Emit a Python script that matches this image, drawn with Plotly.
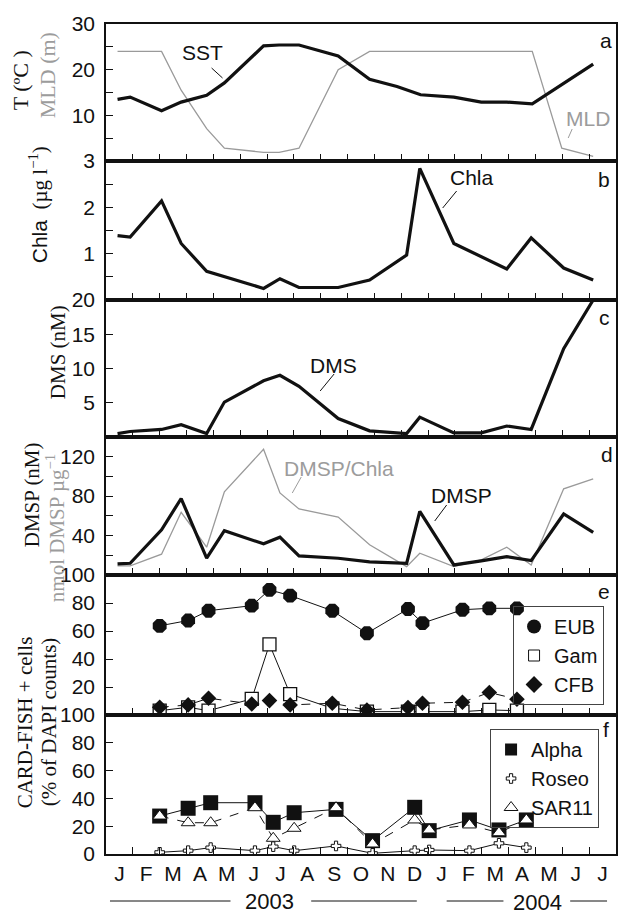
import plotly.graph_objects as go

# ---------------- data (x = months since 1 Jan 2003) ----------------
month_labels = ["J", "F", "M", "A", "M", "J", "J", "A", "S", "O", "N", "D",
                "J", "F", "M", "A", "M", "J", "J"]

x_sst = [0.43, 0.90, 2.07, 2.80, 3.75, 4.41, 5.87, 6.45, 7.19, 8.65, 9.82,
         10.84, 11.72, 12.96, 13.98, 14.93, 15.88, 18.15]
sst = [13.5, 14.0, 11.0, 12.9, 14.4, 17.1, 25.2, 25.4, 25.4, 23.0, 17.9,
       16.3, 14.5, 14.0, 12.9, 12.9, 12.5, 21.2]

x_mld = [0.43, 2.07, 2.80, 3.75, 4.41, 5.87, 6.45, 7.19, 8.65, 9.82, 15.88,
         16.98, 18.15]
mld = [24, 24, 15.5, 7.1, 2.8, 1.9, 1.9, 2.8, 20, 24, 24, 2.8, 1.0]

x_chla = [0.43, 0.90, 2.07, 2.80, 3.75, 5.87, 6.48, 7.19, 8.65, 9.82, 11.20,
          11.69, 12.96, 14.93, 15.84, 17.05, 18.15]
chla = [1.39, 1.36, 2.14, 1.22, 0.62, 0.25, 0.46, 0.27, 0.27, 0.43, 0.97,
        2.84, 1.22, 0.67, 1.34, 0.69, 0.43]

x_sulf = [0.43, 0.90, 2.07, 2.80, 3.75, 4.41, 5.87, 6.48, 7.19, 8.65, 9.82,
          11.20, 11.69, 12.96, 13.98, 14.93, 15.84, 17.05, 18.15]
dms = [0.5, 0.8, 1.1, 1.8, 0.5, 5.1, 8.2, 9.0, 7.4, 2.7, 0.9, 0.5, 2.9,
       0.6, 0.6, 1.6, 1.1, 12.9, 20.0]
dmsp = [11.2, 11.9, 45.9, 77.6, 17.0, 44.9, 31.6, 38.4, 19.4, 17.0, 13.3,
        11.9, 64.6, 10.2, 14.3, 18.7, 14.6, 61.9, 43.2]
dmsp_chla = [9.2, 9.2, 21.1, 63.6, 28.2, 84.4, 127.6, 83.3, 67.0, 58.8, 30.6,
             8.5, 22.1, 8.5, 15.3, 28.2, 10.2, 87.4, 97.6]

x_e = [2.00, 3.06, 3.82, 5.43, 6.09, 6.86, 8.43, 9.72, 11.25, 11.79, 13.28,
       14.28, 15.31]
eub = [63.7, 67.5, 74.5, 78.1, 89.4, 85.3, 74.5, 58.4, 75.7, 65.6, 75.2, 76.2, 76.2]
gam = [3.1, 5.5, 3.1, 11.5, 50.5, 14.9, 4.8, 2.4, 2.4, 2.4, 2.4, 3.6, 3.1]
cfb = [5.5, 7.2, 12.0, 7.9, 10.3, 7.2, 8.4, 3.6, 5.3, 8.4, 9.1, 16.1, 11.3]

x_f = [2.00, 3.06, 3.90, 5.55, 6.23, 7.01, 8.57, 9.93, 11.50, 12.04, 13.54,
       14.64, 15.66]
alpha = [27.3, 32.9, 36.9, 36.9, 22.8, 29.7, 32.1, 9.6, 33.6, 16.8, 24.5, 17.3, 24.5]
roseo = [1.2, 2.4, 4.6, 2.4, 5.3, 2.4, 5.8, 0.5, 2.4, 2.9, 2.4, 7.7, 4.6]
sar11 = [27.3, 22.5, 22.5, 33.3, 11.3, 18.5, 33.3, 7.2, 24.5, 17.3, 20.9, 15.3, 24.5]

# ---------------- geometry helpers ----------------
W, H = 619, 915
L, R, T, B = 106, 1, 24, 61
PW = W - L - R
PH = H - T - B


def px(xp):
    return (xp - L) / PW


def py(yp):
    return (H - B - yp) / PH


panels = [(24, 161), (161, 300), (300, 437), (437, 575), (575, 715), (715, 854)]
yranges = [[0, 30], [0, 3], [0, 20], [0, 140], [0, 100], [0, 100]]
ytickvals = [
    [0, 5, 10, 15, 20, 25, 30],
    [0, 0.5, 1, 1.5, 2, 2.5, 3],
    [0, 5, 10, 15, 20],
    [0, 20, 40, 60, 80, 100, 120, 140],
    [0, 20, 40, 60, 80, 100],
    [0, 20, 40, 60, 80, 100],
]
yticktext = [
    ["", "", "10", "", "20", "", "30"],
    ["", "", "1", "", "2", "", "3"],
    ["", "5", "10", "15", "20"],
    ["", "", "40", "", "80", "", "120", ""],
    ["", "20", "40", "60", "80", "100"],
    ["0", "20", "40", "60", "80", "100"],
]

SANS = "Liberation Sans"
SERIF = "Liberation Serif"
GRAY = "#9a9a9a"
GRAYT = "#9c9c9c"

fig = go.Figure()


def ax(i):
    return ("x" if i == 1 else f"x{i}"), ("y" if i == 1 else f"y{i}")


# panel a
xa, ya = ax(1)
fig.add_trace(go.Scatter(x=x_mld, y=mld, mode="lines", line=dict(color=GRAY, width=1.3),
                         xaxis=xa, yaxis=ya, showlegend=False))
fig.add_trace(go.Scatter(x=x_sst, y=sst, mode="lines", line=dict(color="#111", width=3.2),
                         xaxis=xa, yaxis=ya, showlegend=False))
# panel b
xa, ya = ax(2)
fig.add_trace(go.Scatter(x=x_chla, y=chla, mode="lines", line=dict(color="#111", width=3.2),
                         xaxis=xa, yaxis=ya, showlegend=False))
# panel c
xa, ya = ax(3)
fig.add_trace(go.Scatter(x=x_sulf, y=dms, mode="lines", line=dict(color="#111", width=3.2),
                         xaxis=xa, yaxis=ya, showlegend=False))
# panel d
xa, ya = ax(4)
fig.add_trace(go.Scatter(x=x_sulf, y=dmsp_chla, mode="lines", line=dict(color=GRAY, width=1.3),
                         xaxis=xa, yaxis=ya, showlegend=False))
fig.add_trace(go.Scatter(x=x_sulf, y=dmsp, mode="lines", line=dict(color="#111", width=3.2),
                         xaxis=xa, yaxis=ya, showlegend=False))
# panel e
xa, ya = ax(5)
fig.add_trace(go.Scatter(x=x_e, y=eub, mode="lines+markers", line=dict(color="#111", width=1),
                         marker=dict(symbol="octagon", size=15, color="#111"),
                         xaxis=xa, yaxis=ya, showlegend=False))
fig.add_trace(go.Scatter(x=x_e, y=gam, mode="lines+markers", line=dict(color="#111", width=1),
                         marker=dict(symbol="square", size=13, color="white",
                                     line=dict(color="#111", width=1.3)),
                         xaxis=xa, yaxis=ya, showlegend=False))
fig.add_trace(go.Scatter(x=x_e, y=cfb, mode="lines+markers",
                         line=dict(color="#111", width=1, dash="dash"),
                         marker=dict(symbol="diamond", size=12, color="#111"),
                         xaxis=xa, yaxis=ya, showlegend=False))
# panel f
xa, ya = ax(6)
fig.add_trace(go.Scatter(x=x_f, y=alpha, mode="lines+markers", line=dict(color="#111", width=1),
                         marker=dict(symbol="square", size=15, color="#111"),
                         xaxis=xa, yaxis=ya, showlegend=False))
fig.add_trace(go.Scatter(x=x_f, y=roseo, mode="lines+markers", line=dict(color="#111", width=1),
                         marker=dict(symbol="cross", size=8, color="white",
                                     line=dict(color="#111", width=1)),
                         xaxis=xa, yaxis=ya, showlegend=False))
fig.add_trace(go.Scatter(x=x_f, y=sar11, mode="lines+markers",
                         line=dict(color="#111", width=1, dash="dash"),
                         marker=dict(symbol="triangle-up", size=12, color="white",
                                     line=dict(color="#111", width=1)),
                         xaxis=xa, yaxis=ya, showlegend=False))

# legend-only entries (marker symbols only)
leg_e = [("EUB", dict(symbol="circle", size=14, color="#111")),
         ("Gam", dict(symbol="square", size=11, color="white", line=dict(color="#111", width=1))),
         ("CFB", dict(symbol="diamond", size=13, color="#111"))]
for name, mk in leg_e:
    fig.add_trace(go.Scatter(x=[None], y=[None], mode="markers", marker=mk, name=name,
                             xaxis="x5", yaxis="y5", legend="legend"))
leg_f = [("Alpha", dict(symbol="square", size=12, color="#111")),
         ("Roseo", dict(symbol="cross", size=8, color="white", line=dict(color="#111", width=1))),
         ("SAR11", dict(symbol="triangle-up", size=12, color="white", line=dict(color="#111", width=1)))]
for name, mk in leg_f:
    fig.add_trace(go.Scatter(x=[None], y=[None], mode="markers", marker=mk, name=name,
                             xaxis="x6", yaxis="y6", legend="legend2"))

layout = dict(
    width=W, height=H,
    margin=dict(l=L, r=R, t=T, b=B),
    paper_bgcolor="white", plot_bgcolor="white",
    font=dict(family=SANS, size=21, color="#111"),
    legend=dict(x=px(606), y=py(606), xanchor="right", yanchor="top",
                font=dict(family=SANS, size=20, color="#111"),
                bordercolor="#444", borderwidth=1, bgcolor="rgba(255,255,255,0)",
                tracegroupgap=0, itemwidth=30),
    legend2=dict(x=px(601), y=py(729), xanchor="right", yanchor="top",
                 font=dict(family=SANS, size=20, color="#111"),
                 bordercolor="#444", borderwidth=1, bgcolor="rgba(255,255,255,0)",
                 tracegroupgap=0, itemwidth=30),
)

month_ticks = list(range(1, 19))
month_centers = [i + 0.5 for i in range(19)]

for i in range(1, 7):
    top, bot = panels[i - 1]
    xk = "xaxis" if i == 1 else f"xaxis{i}"
    yk = "yaxis" if i == 1 else f"yaxis{i}"
    xa, ya = ax(i)
    xd = dict(domain=[0, 1], range=[0, 19], anchor=ya, showgrid=False, zeroline=False,
              showline=True, mirror=True, linecolor="#111", linewidth=1.5)
    if i < 6:
        xd.update(tickmode="array", tickvals=month_ticks, ticks="inside", ticklen=7,
                  tickwidth=1.3, tickcolor="#111", showticklabels=False)
    else:
        xd.update(tickmode="array", tickvals=month_centers, ticktext=month_labels,
                  ticks="", showticklabels=True, ticklabelstandoff=0,
                  tickfont=dict(family=SANS, size=21, color="#111"),
                  minor=dict(tickmode="array", tickvals=month_ticks, ticks="inside",
                             ticklen=7, tickwidth=1.3, tickcolor="#111", showgrid=False))
    layout[xk] = xd
    layout[yk] = dict(domain=[py(bot), py(top)], range=yranges[i - 1], anchor=xa,
                      tickmode="array", tickvals=ytickvals[i - 1], ticktext=yticktext[i - 1],
                      ticks="inside", ticklen=7, tickwidth=1.3, tickcolor="#111",
                      tickfont=dict(family=SANS, size=21, color="#111"),
                      ticklabelstandoff=5,
                      showgrid=False, zeroline=False, showline=True, mirror=True,
                      linecolor="#111", linewidth=1.5)

fig.update_layout(**layout)

annotations = []
shapes = []


def text(xp, yp, s, color="#111", size=21, family=SANS, angle=0):
    annotations.append(dict(x=px(xp), y=py(yp), xref="paper", yref="paper", text=s,
                            showarrow=False, textangle=angle,
                            font=dict(family=family, size=size, color=color),
                            xanchor="center", yanchor="middle"))


def seg(x0, y0, x1, y1, color="#111", width=1):
    shapes.append(dict(type="line", xref="paper", yref="paper",
                       x0=px(x0), y0=py(y0), x1=px(x1), y1=py(y1),
                       line=dict(color=color, width=width)))


# panel letters
for letter, (xp, yp) in zip("abcdef", [(608, 40), (606, 179), (606, 317), (609, 455),
                                        (606, 591), (608, 729)]):
    text(xp, yp, letter)

# series labels with leader lines
text(203, 52, "SST")
seg(212, 68, 223, 78)
text(590, 118, "MLD", color=GRAYT)
seg(574, 129, 570, 138, color=GRAYT)
text(473, 178, "Chla")
seg(458, 191, 444, 208)
text(334, 365, "DMS")
seg(335, 374, 321, 391)
text(340, 468, "DMSP/Chla", color=GRAYT)
seg(302, 477, 293, 493, color=GRAYT)
text(463, 495, "DMSP")
seg(448, 505, 436, 521)

# y-axis titles
text(21, 80, "T (ºC )", family=SERIF, size=22, angle=-90)
text(47, 75, "MLD (m)", color=GRAYT, family=SERIF, size=22, angle=-90)
text(39, 205, "<span style='font-family:Liberation Sans'>Chla</span>  (µg l<sup>−1</sup>)",
     family=SERIF, size=21, angle=-90)
text(58, 352, "DMS (nM)", family=SERIF, size=21, angle=-90)
text(32, 495, "DMSP (nM)", family=SERIF, size=21, angle=-90)
text(55, 528, "nmol DMSP µg<sup>−1</sup>", color=GRAYT, family=SERIF, size=21, angle=-90)
text(25, 722, "CARD-FISH + cells", family=SERIF, size=21, angle=-90)
text(49, 722, "(% of DAPI counts)", family=SERIF, size=21, angle=-90)

# year labels and rules
text(270, 901, "2003", size=22)
seg(110, 901, 231, 901)
seg(312, 901, 418, 901)
text(539, 902, "2004", size=22)
seg(448, 901, 505, 901)
seg(572, 901, 609, 901)

fig.update_layout(annotations=annotations, shapes=shapes)

fig.write_html("out.html", config={"displayModeBar": False},
               post_script="document.body.style.margin='0';document.body.style.overflow='hidden';")
